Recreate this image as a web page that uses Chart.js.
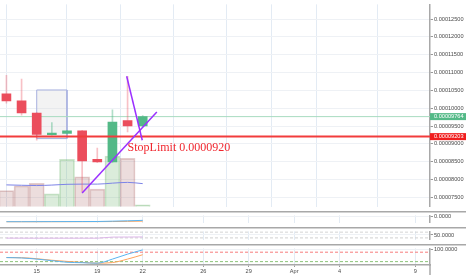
<!DOCTYPE html>
<html>
<head>
<meta charset="utf-8">
<script src="https://cdn.jsdelivr.net/npm/chart.js@4.4.1/dist/chart.umd.min.js"></script>
<style>
  html, body { margin: 0; padding: 0; background: #fff; }
  #wrap { position: relative; width: 466px; height: 275px; overflow: hidden; }
  .pane { position: absolute; left: 0; width: 466px; }
  .pane canvas { display: block; }
</style>
</head>
<body>
<div id="wrap">
  <div class="pane" style="top:0;height:211px"><canvas id="main" width="466" height="211"></canvas></div>
  <div class="pane" style="top:211px;height:16px"><canvas id="macd" width="466" height="16"></canvas></div>
  <div class="pane" style="top:227px;height:17px"><canvas id="rsi" width="466" height="17"></canvas></div>
  <div class="pane" style="top:244px;height:31px"><canvas id="stoch" width="466" height="31"></canvas></div>
</div>
<script>
// March days (32 = 1 Apr)
const days   = [13, 14, 15, 16, 17, 18, 19, 20, 21, 22];
const opens  = [0.00010403, 0.00010204, 0.00009866, 0.00009256, 0.00009290, 0.00009363, 0.00008565, 0.00008495, 0.00009651, 0.00009506];
const highs  = [0.00010922, 0.00010815, 0.00009874, 0.00009597, 0.00009375, 0.00009380, 0.00008879, 0.00009954, 0.00010895, 0.00009790];
const lows   = [0.00010143, 0.00009801, 0.00009102, 0.00009242, 0.00009280, 0.00007650, 0.00008470, 0.00008480, 0.00009336, 0.00009480];
const closes = [0.00010204, 0.00009866, 0.00009264, 0.00009301, 0.00009363, 0.00008522, 0.00008495, 0.00009613, 0.00009506, 0.00009764];
const volumes  = [167, 217, 243, 133, 493, 310, 183, 527, 503, 20];
const volumeMa = [227, 223, 220, 225, 233, 235, 235, 245, 253, 240];

const macdLine   = [-1.10, -1.10, -1.09, -1.08, -1.07, -1.06, -1.05, -0.98, -0.90, -0.80];
const signalLine = [-1.12, -1.12, -1.12, -1.11, -1.11, -1.10, -1.09, -1.06, -1.02, -0.97];
const rsiLine    = [28.5, 28.2, 28.0, 28.0, 28.0, 28.0, 28.0, 35.5, 36.0, 36.5];
const stochK     = [45.8, 43.4, 36.1, 26.3, 16.0, 13.1, 10.2, 36.1, 67.8, 94.6];
const stochD     = [45.8, 44.9, 38.5, 28.8, 21.4, 15.1, 10.2, 14.1, 36.1, 63.9];

const priceTicks  = [0.000075, 0.00008, 0.000085, 0.00009, 0.000095, 0.0001, 0.000105, 0.00011, 0.000115, 0.00012, 0.000125];
const xTickDays   = [15, 19, 22, 26, 29, 32, 35, 40];
const xTickLabels = ['15', '19', '22', '26', '29', 'Apr', '4', '9'];

const lastPrice = 0.00009764;
const stopPrice = 0.00009203;
const boxDays   = [15, 17];
const boxPrices = [0.00010511, 0.00009148];
const trendA = [[18, 0.00007624], [22.93, 0.00009893]];
const trendB = [[20.94, 0.00010895], [21.97, 0.00009102]];
const stopText = 'StopLimit 0.0000920';
const stopTextAt = [21, 0.00008791];

const X_MIN = 12.576, X_MAX = 40.97;
const UP = '#53b987', DOWN = '#eb4d5c';

Chart.defaults.font.family = '"Liberation Sans", Arial, sans-serif';
Chart.defaults.font.size = 5.6;
Chart.defaults.color = '#4a4a4a';
Chart.defaults.animation = false;
Chart.defaults.responsive = false;
Chart.defaults.plugins.legend.display = false;
Chart.defaults.plugins.tooltip.enabled = false;
Chart.defaults.elements.point.radius = 0;

const isUp = days.map((d, i) => closes[i] >= opens[i]);
const pts = arr => days.map((d, i) => ({ x: d, y: arr[i] }));
const hline = v => [{ x: X_MIN, y: v }, { x: X_MAX, y: v }];

const xAxis = (showLabels) => ({
  type: 'linear', min: X_MIN, max: X_MAX, offset: false,
  afterBuildTicks: s => { s.ticks = xTickDays.map(v => ({ value: v })); },
  afterFit: s => { s.height = showLabels ? 10 : 0; },
  grid: { color: '#e3ebf4', drawTicks: showLabels, tickLength: 2, tickColor: '#999' },
  border: { display: showLabels, color: '#a8a8a8', width: 1.5 },
  ticks: { display: showLabels, autoSkip: false, maxRotation: 0, padding: 1, callback: (v, i) => xTickLabels[i] }
});

const yAxis = (min, max, ticks, decimals) => ({
  position: 'right', min: min, max: max,
  afterBuildTicks: s => { s.ticks = ticks.map(v => ({ value: v })); },
  afterFit: s => { s.width = 36; },
  grid: { color: '#eef1f5', tickLength: 3, tickColor: '#999' },
  border: { color: '#a8a8a8', width: 1.5 },
  ticks: { padding: 1, autoSkip: false, callback: v => v.toFixed(decimals) }
});

const separator = {
  id: 'separator',
  afterDraw(chart) {
    const ctx = chart.ctx;
    ctx.save();
    ctx.strokeStyle = '#a8a8a8';
    ctx.lineWidth = 1.5;
    ctx.beginPath();
    ctx.moveTo(0, 0.75);
    ctx.lineTo(chart.width, 0.75);
    ctx.stroke();
    ctx.restore();
  }
};

// price tags on the axis and the StopLimit note
const priceTags = {
  id: 'priceTags',
  afterDraw(chart) {
    const ctx = chart.ctx;
    const y = chart.scales.y, x = chart.scales.x;
    ctx.save();
    [[lastPrice, UP], [stopPrice, '#f01e1e']].forEach(([v, c]) => {
      const py = y.getPixelForValue(v);
      ctx.fillStyle = c;
      ctx.fillRect(chart.chartArea.right, py - 3.5, 36, 7);
      ctx.fillStyle = '#fff';
      ctx.font = '5.6px "Liberation Sans", Arial, sans-serif';
      ctx.textBaseline = 'middle';
      ctx.fillText(v.toFixed(8), chart.chartArea.right + 4, py + 0.3);
    });
    ctx.font = '12px "Liberation Serif", "Times New Roman", serif';
    ctx.fillStyle = '#f0272f';
    ctx.textBaseline = 'alphabetic';
    ctx.fillText(stopText, x.getPixelForValue(stopTextAt[0]), y.getPixelForValue(stopTextAt[1]));
    ctx.restore();
  }
};

new Chart(document.getElementById('main'), {
  type: 'bar',
  data: {
    datasets: [
      { type: 'line', data: trendA.map(p => ({ x: p[0], y: p[1] })), borderColor: '#9b30ff', borderWidth: 1.5, order: 0 },
      { type: 'line', data: trendB.map(p => ({ x: p[0], y: p[1] })), borderColor: '#9b30ff', borderWidth: 1.5, order: 0 },
      { type: 'line', data: hline(stopPrice), borderColor: '#f23c3c', borderWidth: 2, order: 1 },
      {
        data: days.map((d, i) => ({ x: d, y: [opens[i], closes[i]] })),
        backgroundColor: isUp.map(u => u ? UP : DOWN),
        barThickness: 9, grouped: false, order: 2
      },
      {
        data: days.map((d, i) => ({ x: d, y: [lows[i], highs[i]] })),
        backgroundColor: isUp.map(u => u ? 'rgba(83,185,135,0.45)' : 'rgba(235,77,92,0.35)'),
        barThickness: 1, grouped: false, order: 3
      },
      { type: 'line', data: hline(lastPrice), borderColor: '#a8dcc0', borderWidth: 1, order: 4 },
      {
        type: 'line',
        data: [
          { x: boxDays[0], y: boxPrices[0] }, { x: boxDays[1], y: boxPrices[0] },
          { x: boxDays[1], y: boxPrices[1] }, { x: boxDays[0], y: boxPrices[1] },
          { x: boxDays[0], y: boxPrices[0] }
        ],
        fill: 'shape', borderColor: '#a9b2e0', borderWidth: 1,
        backgroundColor: 'rgba(215,215,215,0.3)', order: 5
      },
      { type: 'line', yAxisID: 'yv', data: pts(volumeMa), borderColor: '#7c83e6', borderWidth: 1, cubicInterpolationMode: 'monotone', order: 6 },
      {
        yAxisID: 'yv',
        data: pts(volumes),
        backgroundColor: isUp.map(u => u ? 'rgba(110,180,110,0.25)' : 'rgba(170,100,100,0.22)'),
        borderColor: isUp.map(u => u ? 'rgba(110,180,110,0.35)' : 'rgba(170,100,100,0.32)'),
        borderWidth: 1, barThickness: 15, grouped: false, order: 7
      }
    ]
  },
  options: {
    layout: { padding: 0 },
    scales: {
      x: xAxis(false),
      y: yAxis(0.0000724, 0.00012911, priceTicks, 8),
      yv: { display: false, min: 0, max: 2110 }
    }
  },
  plugins: [priceTags]
});

new Chart(document.getElementById('macd'), {
  type: 'line',
  data: {
    datasets: [
      { data: pts(macdLine), borderColor: '#5ab4f0', borderWidth: 1, cubicInterpolationMode: 'monotone' },
      { data: pts(signalLine), borderColor: '#ffa35c', borderWidth: 1, cubicInterpolationMode: 'monotone' }
    ]
  },
  options: {
    layout: { padding: 0 },
    scales: { x: xAxis(false), y: yAxis(-1.3, 0.3, [0], 4) }
  },
  plugins: [separator]
});

new Chart(document.getElementById('rsi'), {
  type: 'line',
  data: {
    datasets: [
      { data: pts(rsiLine), borderColor: '#dcb6e8', borderWidth: 1 },
      { data: hline(70), borderColor: '#cfcfcf', borderWidth: 1, borderDash: [3, 2] },
      { data: hline(30), borderColor: '#cfcfcf', borderWidth: 1, borderDash: [3, 2] }
    ]
  },
  options: {
    layout: { padding: 0 },
    scales: { x: xAxis(false), y: yAxis(18, 75, [50], 4) }
  },
  plugins: [separator]
});

new Chart(document.getElementById('stoch'), {
  type: 'line',
  data: {
    datasets: [
      { data: pts(stochK), borderColor: '#5ab4f0', borderWidth: 1, cubicInterpolationMode: 'monotone' },
      { data: pts(stochD), borderColor: '#ffa35c', borderWidth: 1, cubicInterpolationMode: 'monotone' },
      { data: hline(80), borderColor: '#f77b7b', borderWidth: 1, borderDash: [3, 2] },
      { data: hline(20), borderColor: '#8cc47a', borderWidth: 1, borderDash: [3, 2] }
    ]
  },
  options: {
    layout: { padding: 0 },
    scales: { x: xAxis(true), y: yAxis(-1.5, 104.4, [100], 4) }
  },
  plugins: [separator, {
    id: 'axisTail',
    afterDraw(chart) {
      const ctx = chart.ctx, a = chart.chartArea;
      ctx.save();
      ctx.strokeStyle = '#a8a8a8';
      ctx.lineWidth = 1.5;
      ctx.beginPath();
      ctx.moveTo(a.right, a.bottom);
      ctx.lineTo(a.right, chart.height);
      ctx.stroke();
      ctx.restore();
    }
  }]
});
</script>
</body>
</html>
